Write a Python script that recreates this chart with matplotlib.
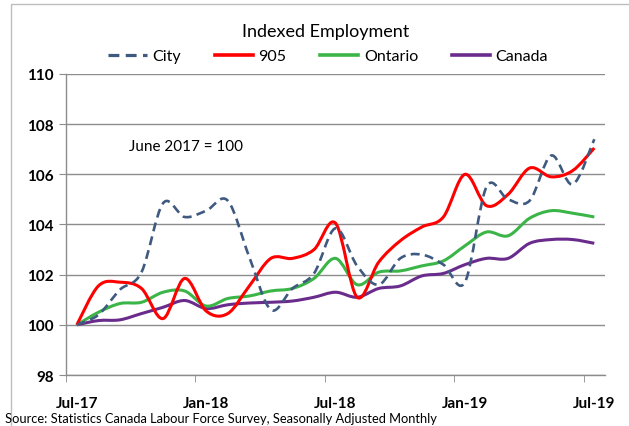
import numpy as np
import matplotlib.pyplot as plt
from matplotlib.path import Path
from matplotlib.patches import PathPatch, Rectangle
from matplotlib.lines import Line2D

plt.rcParams['font.family'] = ['Lato', 'DejaVu Sans']

# monthly index, June 2017 = 100 (Jul-17 .. Jul-19)
months = list(range(25))
tick_labels = ["Jul-17", "Jan-18", "Jul-18", "Jan-19", "Jul-19"]
city = [100.0, 100.4, 101.4, 102.1, 104.85, 104.3, 104.55, 104.95, 102.7, 100.6, 101.45, 102.05,
        103.85, 102.35, 101.6, 102.65, 102.8, 102.4, 101.7, 105.5, 105.0, 104.95, 106.75, 105.6, 107.4]
gta905 = [100.0, 101.55, 101.7, 101.45, 100.25, 101.85, 100.55, 100.45, 101.55, 102.65, 102.65, 103.0,
          104.05, 101.1, 102.5, 103.35, 103.9, 104.3, 106.0, 104.75, 105.2, 106.25, 105.9, 106.15, 107.05]
ontario = [100.0, 100.5, 100.85, 100.9, 101.3, 101.35, 100.75, 101.05, 101.15, 101.35, 101.45, 101.85,
           102.65, 101.6, 102.1, 102.15, 102.35, 102.55, 103.15, 103.7, 103.55, 104.25, 104.55, 104.45, 104.3]
canada = [100.0, 100.17, 100.2, 100.45, 100.7, 100.97, 100.65, 100.8, 100.87, 100.9, 100.95, 101.1,
          101.3, 101.1, 101.45, 101.55, 101.95, 102.05, 102.4, 102.65, 102.65, 103.25, 103.4, 103.4, 103.25]


def smooth_path(x, y):
    # Excel-style smoothed line: cubic bezier through every point
    p = np.column_stack([x, y]).astype(float)
    ext = np.vstack([p[0], p, p[-1]])
    verts = [p[0]]
    codes = [Path.MOVETO]
    for i in range(len(p) - 1):
        c1 = ext[i + 1] + (ext[i + 2] - ext[i]) / 6.0
        c2 = ext[i + 2] - (ext[i + 3] - ext[i + 1]) / 6.0
        verts += [c1, c2, ext[i + 2]]
        codes += [Path.CURVE4] * 3
    return Path(verts, codes)


fig = plt.figure(figsize=(6.29, 4.27), dpi=100)
ax = fig.add_axes([0.105, 0.1194, 0.857, 0.7050])

series = [
    ("City", city, "#3F5A80", (0, (3.4, 2.0)), 1.9),
    ("905", gta905, "#FF0000", "-", 2.2),
    ("Ontario", ontario, "#3CB548", "-", 2.2),
    ("Canada", canada, "#6A2C8C", "-", 2.2),
]
handles = []
for name, vals, col, ls, lw in series[::-1]:
    patch = PathPatch(smooth_path(months, vals), fill=False, edgecolor=col,
                      linewidth=lw, linestyle=ls, capstyle='butt', joinstyle='round')
    ax.add_patch(patch)
for name, vals, col, ls, lw in series:
    handles.append(Line2D([], [], color=col, linewidth=lw + 0.4, linestyle=ls, label=name))

ax.set_xlim(-0.5, 24.5)
ax.set_ylim(98, 110)
ax.set_yticks(np.arange(98, 111, 2))
ax.yaxis.grid(True, color="#8c8c8c", linewidth=1.0)
ax.set_axisbelow(True)

ax.set_xticks([0, 6, 12, 18, 24])
ax.set_xticklabels(tick_labels)
ax.set_xticks([-0.5, 5.5, 11.5, 17.5, 23.5], minor=True)
ax.tick_params(axis='x', which='major', length=0, pad=15, labelsize=11)
ax.tick_params(axis='x', which='minor', length=5, color="#8c8c8c", direction='out')
ax.tick_params(axis='y', length=5, color="#8c8c8c", labelsize=11, pad=4)
for lab in ax.get_xticklabels() + ax.get_yticklabels():
    lab.set_fontweight('bold')

for s in ['top', 'right']:
    ax.spines[s].set_visible(False)
for s in ['left', 'bottom']:
    ax.spines[s].set_color("#8c8c8c")
    ax.spines[s].set_linewidth(1.0)

ax.text(2.4, 107.12, "June 2017 = 100", fontsize=11, va='center')

fig.text(0.517, 0.925, "Indexed Employment", ha='center', va='center', fontsize=13)
fig.legend(handles=handles, loc='center', bbox_to_anchor=(0.522, 0.866), ncol=4,
           frameon=False, fontsize=11.5, handlelength=2.4, columnspacing=2.1, handletextpad=0.35)
fig.text(0.008, 0.018, "Source: Statistics Canada Labour Force Survey, Seasonally Adjusted Monthly",
         fontsize=9.3, ha='left', va='center')

fig.patches.append(Rectangle((0.017, -0.01), 1.0, 0.999, transform=fig.transFigure,
                             fill=False, edgecolor="#bdbdbd", linewidth=1.0))

fig.savefig("out.png", dpi=100)
